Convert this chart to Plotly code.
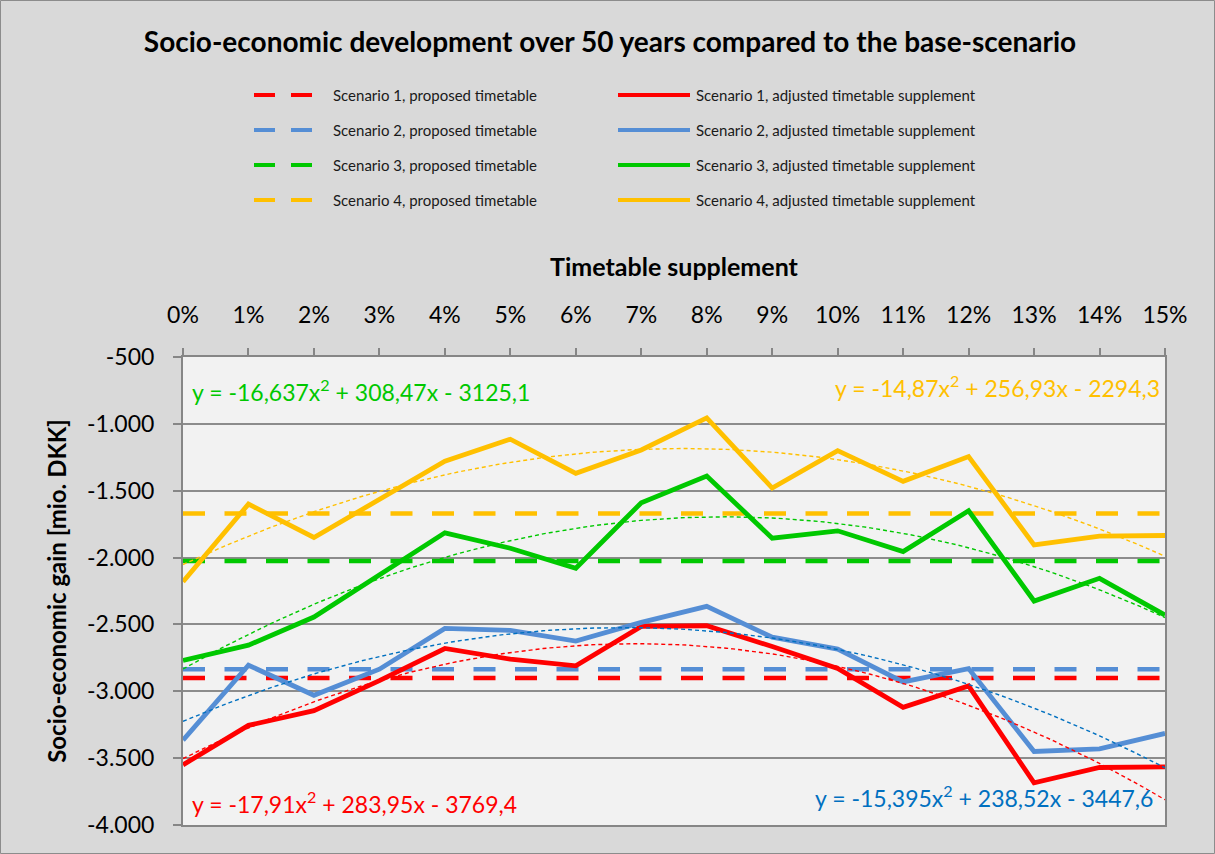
import plotly.graph_objects as go
import numpy as np

# ---------------- data ----------------
supplement_pct = list(range(16))
tick_labels = ["0%", "1%", "2%", "3%", "4%", "5%", "6%", "7%", "8%", "9%",
               "10%", "11%", "12%", "13%", "14%", "15%"]

y_tick_vals = [-500, -1000, -1500, -2000, -2500, -3000, -3500, -4000]
y_tick_text = ["-500", "-1.000", "-1.500", "-2.000", "-2.500", "-3.000", "-3.500", "-4.000"]

scenario_names = ["Scenario 1", "Scenario 2", "Scenario 3", "Scenario 4"]

adjusted_s1 = [-3550, -3255, -3145, -2920, -2680, -2760, -2810, -2515,
               -2510, -2665, -2830, -3120, -2960, -3685, -3570, -3565]
adjusted_s2 = [-3365, -2805, -3030, -2835, -2530, -2545, -2625, -2485,
               -2365, -2595, -2685, -2930, -2830, -3450, -3430, -3315]
adjusted_s3 = [-2770, -2655, -2445, -2130, -1815, -1930, -2080, -1590,
               -1390, -1855, -1800, -1955, -1650, -2325, -2155, -2430]
adjusted_s4 = [-2180, -1600, -1850, -1560, -1280, -1115, -1370, -1195,
               -955, -1480, -1200, -1430, -1245, -1905, -1840, -1835]

proposed_values = [-2900, -2835, -2025, -1670]

# polynomial trendline coefficients (a, b, c) as printed on the chart, x = 1..16
trend_a = [-17.91, -15.395, -16.637, -14.87]
trend_b = [283.95, 238.52, 308.47, 256.93]
trend_c = [-3769.4, -3447.6, -3125.1, -2294.3]
trend_labels = ["y = -17,91x<sup>2</sup> + 283,95x - 3769,4",
                "y = -15,395x<sup>2</sup> + 238,52x - 3447,6",
                "y = -16,637x<sup>2</sup> + 308,47x - 3125,1",
                "y = -14,87x<sup>2</sup> + 256,93x - 2294,3"]

# ---------------- style ----------------
line_colors = ["#FF0000", "#558ED5", "#00C800", "#FFC000"]
trend_colors = ["#FF0000", "#0070C0", "#00C800", "#FFC000"]
eq_colors = ["#FF0000", "#0070C0", "#00C800", "#FFC000"]
FONT = "Lato"

W, H = 1215, 854
L, R, T, B = 183, 50, 357, 29
PW, PH = W - L - R, H - T - B

def px_x(px):
    return (px - L) / PW

def px_y(py):
    return (H - B - py) / PH

adjusted = [adjusted_s1, adjusted_s2, adjusted_s3, adjusted_s4]

fig = go.Figure()

# proposed timetable (dashed horizontal)
for i in range(4):
    label = f"{scenario_names[i]}, proposed timetable"
    fig.add_trace(go.Scatter(
        x=supplement_pct, y=[proposed_values[i]] * len(supplement_pct),
        mode="lines", line=dict(color=line_colors[i], width=4.5, dash="22px,19.5px"),
        hovertemplate=label + "<br>%{x}%: %{y}<extra></extra>", showlegend=False))

# adjusted timetable supplement (solid)
for i in range(4):
    label = f"{scenario_names[i]}, adjusted timetable supplement"
    fig.add_trace(go.Scatter(
        x=supplement_pct, y=adjusted[i], mode="lines",
        line=dict(color=line_colors[i], width=4.8),
        hovertemplate=label + "<br>%{x}%: %{y}<extra></extra>", showlegend=False))

# trendlines
xs = np.linspace(0, 15, 151)
for i in range(4):
    xe = xs + 1
    ys = trend_a[i] * xe ** 2 + trend_b[i] * xe + trend_c[i]
    fig.add_trace(go.Scatter(
        x=xs, y=ys, mode="lines",
        line=dict(color=trend_colors[i], width=1.4, dash="4px,3px"),
        showlegend=False, hoverinfo="skip"))

# trendline equations
eq_pos = [  # (x, y, xanchor)
    (0.11, -3835, "left"),
    (14.85, -3785, "right"),
    (0.11, -748, "left"),
    (14.96, -720, "right"),
]
for i in range(4):
    x, y, xa = eq_pos[i]
    fig.add_annotation(x=x, y=y, xref="x", yref="y", text=trend_labels[i],
                       showarrow=False, xanchor=xa, yanchor="middle",
                       font=dict(family=FONT, size=23, color=eq_colors[i]))

# manual legend
rows = [95, 130, 165, 200]
shapes = []
for i in range(4):
    yy = px_y(rows[i])
    shapes.append(dict(type="line", xref="paper", yref="paper",
                       x0=px_x(254), x1=px_x(313), y0=yy, y1=yy,
                       line=dict(color=line_colors[i], width=4, dash="21px,16px")))
    shapes.append(dict(type="line", xref="paper", yref="paper",
                       x0=px_x(618), x1=px_x(690), y0=yy, y1=yy,
                       line=dict(color=line_colors[i], width=4)))
    fig.add_annotation(xref="paper", yref="paper", x=px_x(331), y=yy,
                       text=f"{scenario_names[i]}, proposed timetable",
                       showarrow=False, xanchor="left", yanchor="middle",
                       font=dict(family=FONT, size=15, color="#1a1a1a"))
    fig.add_annotation(xref="paper", yref="paper", x=px_x(694), y=yy,
                       text=f"{scenario_names[i]}, adjusted timetable supplement",
                       showarrow=False, xanchor="left", yanchor="middle",
                       font=dict(family=FONT, size=15, color="#1a1a1a"))

# outer chart border
shapes.append(dict(type="rect", xref="paper", yref="paper",
                   x0=px_x(0.5), x1=px_x(W - 0.5), y0=px_y(H - 0.5), y1=px_y(0.5),
                   line=dict(color="#8C8C8C", width=1), layer="below"))

axis_grey = "#868686"
fig.update_layout(
    width=W, height=H, autosize=False,
    margin=dict(l=L, r=R, t=T, b=B),
    paper_bgcolor="#D9D9D9", plot_bgcolor="#F2F2F2",
    shapes=shapes,
    title=dict(text="<b>Socio-economic development over 50 years compared to the base-scenario</b>",
               x=610 / W, xanchor="center", y=1 - 42 / H, yanchor="middle",
               font=dict(family=FONT, size=28, color="#000000")),
    xaxis=dict(side="top", range=[0, 15], tickmode="array", tickvals=supplement_pct,
               ticktext=tick_labels, ticks="outside", ticklen=7, tickwidth=1.5,
               tickcolor=axis_grey, showline=True, linecolor=axis_grey, linewidth=2,
               mirror=True, showgrid=False, zeroline=False, ticklabelstandoff=16,
               tickfont=dict(family=FONT, size=23, color="#000000"),
               title=dict(text="<b>Timetable supplement</b>", standoff=16,
                          font=dict(family=FONT, size=25, color="#000000"))),
    yaxis=dict(range=[-4000, -500], tickmode="array", tickvals=y_tick_vals,
               ticktext=y_tick_text, ticks="outside", ticklen=8, tickwidth=1.5,
               tickcolor=axis_grey, showline=True, linecolor=axis_grey, linewidth=2,
               mirror=True, showgrid=True, gridcolor="#8C8C8C", gridwidth=2,
               zeroline=False, ticklabelstandoff=14,
               tickfont=dict(family=FONT, size=23, color="#000000"),
               title=dict(text="<b>Socio-economic gain [mio. DKK]</b>", standoff=14,
                          font=dict(family=FONT, size=24, color="#000000"))),
)

fig.write_html("out.html", config={"displayModeBar": False},
               post_script="document.body.style.margin='0';")
